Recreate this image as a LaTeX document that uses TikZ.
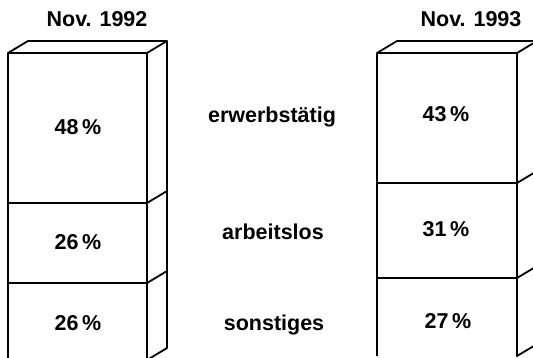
\documentclass[tikz,border=0pt]{standalone}
\usepackage{fontspec}
\setmainfont{Liberation Sans}

\begin{document}
\begin{tikzpicture}[x=1pt,y=-1pt,line width=1.8pt,line join=round,
        lbl/.style={font=\fontsize{21.5}{25}\selectfont\bfseries,anchor=base,inner sep=0pt}]

    \useasboundingbox (0,0) rectangle (533,358);
    \clip (0,0) rectangle (533,358);

    % Nov. 1992
    \draw (8,53) -- (28,41) -- (167,41) -- (147,53) -- cycle;
    \draw (8,53) -- (8,360) (147,53) -- (147,360) -- (167,348) -- (167,41);
    \draw (8,203) -- (147,203) -- (167,191);
    \draw (8,283) -- (147,283) -- (167,271);

    % Nov. 1993
    \draw (377,53) -- (397,41) -- (537,41) -- (517,53) -- cycle;
    \draw (377,53) -- (377,356) (517,53) -- (517,356) -- (537,344) -- (537,41);
    \draw (377,183) -- (517,183) -- (537,171);
    \draw (377,278) -- (517,278) -- (537,266);

    \node[lbl] (t92) at (97,27) {Nov. 1992};
    \node[lbl] (t93) at (471,27) {Nov. 1993};

    \node[lbl] (e92) at (78,135) {48\,\%};
    \node[lbl] (a92) at (78,250) {26\,\%};
    \node[lbl] (s92) at (78,330) {26\,\%};

    \node[lbl] (erw) at (272,123) {erwerbstätig};
    \node[lbl] (arb) at (273,240) {arbeitslos};
    \node[lbl] (son) at (274,330) {sonstiges};

    \node[lbl] (e93) at (446,122) {43\,\%};
    \node[lbl] (a93) at (446,237) {31\,\%};
    \node[lbl] (s93) at (448,328) {27\,\%};

\end{tikzpicture}
\end{document}
